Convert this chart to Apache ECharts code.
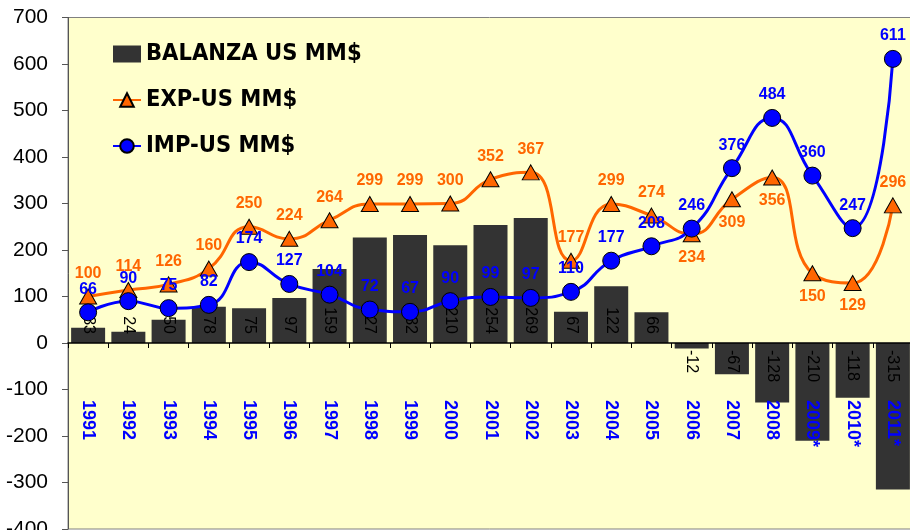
<!DOCTYPE html>
<html>
<head>
<meta charset="utf-8">
<script src="https://cdn.jsdelivr.net/npm/echarts@6/dist/echarts.min.js"></script>
<style>
  html, body { margin: 0; padding: 0; background: #ffffff; }
  #chart { width: 910px; height: 530px; }
</style>
</head>
<body>
<div id="chart"></div>
<script>
// Data
var years = ["1991", "1992", "1993", "1994", "1995", "1996", "1997", "1998", "1999", "2000",
    "2001", "2002", "2003", "2004", "2005", "2006", "2007", "2008", "2009*", "2010*", "2011*"];
var balanza = [33, 24, 50, 78, 75, 97, 159, 227, 232, 210, 254, 269, 67, 122, 66, -12, -67, -128, -210, -118, -315];
var exportaciones = [100, 114, 126, 160, 250, 224, 264, 299, 299, 300, 352, 367, 177, 299, 274, 234, 309, 356, 150, 129, 296];
var importaciones = [66, 90, 75, 82, 174, 127, 104, 72, 67, 90, 99, 97, 110, 177, 208, 246, 376, 484, 360, 247, 611];

var myChart = echarts.init(document.getElementById("chart"), null, { renderer: "canvas" });

// EXP labels sit under the marker from 2006 to 2010
var expBelowFrom = 15;

var option = {
    animation: false,
    backgroundColor: "#ffffff",
    grid: {
        left: 68,
        right: -3,
        top: 17.5,
        bottom: 1,
        outerBoundsMode: "none",
        containLabel: false,
        show: true,
        backgroundColor: "#FFFFCC",
        borderColor: "#808080",
        borderWidth: 1,
    },
    legend: {
        orient: "vertical",
        left: 107,
        top: 37,
        itemWidth: 28,
        itemHeight: 17,
        itemGap: 22,
        textStyle: {
            fontFamily: "DejaVu Sans Condensed, DejaVu Sans",
            fontWeight: "bold",
            fontSize: 23.5,
            color: "#000",
        },
        data: [
            { name: "BALANZA US MM$", icon: "rect" },
            { name: "EXP-US MM$" },
            { name: "IMP-US MM$" },
        ],
    },
    xAxis: {
        type: "category",
        data: years,
        z: 10,
        axisLine: { onZero: true, lineStyle: { color: "#000", width: 1.5 } },
        axisTick: { show: true, length: 5, lineStyle: { color: "#000" } },
        axisLabel: {
            rotate: -90,
            // labels are placed from the grid bottom, not from the zero line
            margin: -129,
            color: "#0000FF",
            fontWeight: "bold",
            fontSize: 18,
            fontFamily: "Liberation Sans",
        },
        splitLine: { show: false },
    },
    yAxis: {
        type: "value",
        min: -400,
        max: 700,
        interval: 100,
        axisLine: { show: true, lineStyle: { color: "#555" } },
        axisTick: { show: true, length: 6, lineStyle: { color: "#555" } },
        axisLabel: {
            margin: 20,
            color: "#000",
            fontSize: 21,
            fontFamily: "Liberation Sans",
        },
        splitLine: { show: false },
    },
    series: [
        {
            name: "BALANZA US MM$",
            type: "bar",
            barWidth: 34,
            itemStyle: { color: "#333333" },
            label: {
                show: true,
                rotate: -90,
                verticalAlign: "middle",
                fontSize: 16,
                color: "#000",
                fontFamily: "Liberation Sans",
            },
            data: balanza.map(function (v) {
                return {
                    value: v,
                    label: v >= 0
                        ? { position: "insideBottom", align: "right", distance: 9 }
                        : { position: "insideTop", align: "left", distance: 7 },
                };
            }),
        },
        {
            name: "EXP-US MM$",
            type: "line",
            smooth: 0.5,
            symbol: "triangle",
            symbolSize: [17, 15],
            lineStyle: { color: "#FF6600", width: 3 },
            itemStyle: { color: "#FF6600", borderColor: "#000", borderWidth: 1 },
            label: {
                show: true,
                fontWeight: "bold",
                fontSize: 16,
                color: "#FF6600",
                fontFamily: "Liberation Sans",
                distance: 7,
            },
            data: exportaciones.map(function (v, i) {
                return { value: v, label: { position: i >= expBelowFrom && i < 20 ? "bottom" : "top" } };
            }),
        },
        {
            name: "IMP-US MM$",
            type: "line",
            smooth: 0.5,
            symbol: "circle",
            symbolSize: 17,
            lineStyle: { color: "#0000FF", width: 3 },
            itemStyle: { color: "#0000FF", borderColor: "#000", borderWidth: 1 },
            label: {
                show: true,
                position: "top",
                distance: 6,
                fontWeight: "bold",
                fontSize: 16,
                color: "#0000FF",
                fontFamily: "Liberation Sans",
            },
            data: importaciones,
        },
    ],
};
myChart.setOption(option);
</script>
</body>
</html>
